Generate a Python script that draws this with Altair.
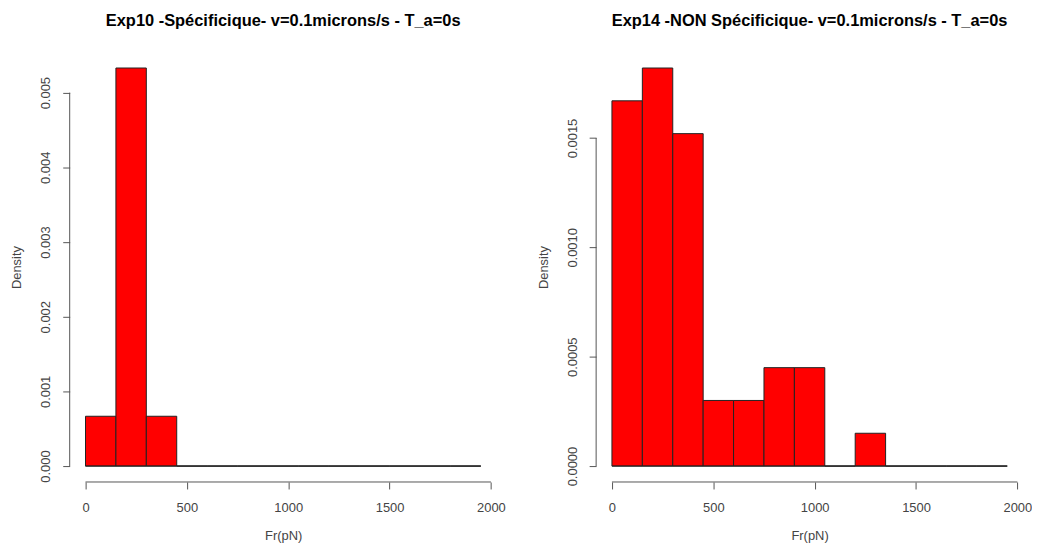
import altair as alt
import pandas as pd

# Histogram bins (width 150)
bin_start = [0, 150, 300, 450, 600, 750, 900, 1050, 1200, 1350, 1500, 1650, 1800]
bin_end = [150, 300, 450, 600, 750, 900, 1050, 1200, 1350, 1500, 1650, 1800, 1950]

# Densities
dens_left = [0.000667, 0.00533, 0.000667, 0, 0, 0, 0, 0, 0, 0, 0, 0, 0]
dens_right = [0.00167, 0.00182, 0.00152, 0.0003, 0.0003, 0.00045, 0.00045, 0, 0.00015, 0, 0, 0, 0]

x_ticks = [0, 500, 1000, 1500, 2000]
y_ticks_left = [0.000, 0.001, 0.002, 0.003, 0.004, 0.005]
y_ticks_right = [0.0000, 0.0005, 0.0010, 0.0015]

title_left = "Exp10 -Spécificique- v=0.1microns/s - T_a=0s"
title_right = "Exp14 -NON Spécificique- v=0.1microns/s - T_a=0s"
x_title = "Fr(pN)"
y_title = "Density"

FONT = "Liberation Sans"
AX = "#555555"
TXT = "#444444"
W, H = 429, 432


def panel(dens, yticks, yfmt, title):
    df = pd.DataFrame({"start": bin_start, "end": bin_end, "density": dens})
    ymax = max(dens)
    ydom = [-0.04 * ymax, ymax * 1.04]
    xdom = [-0.04 * 1950, 1950 * 1.04]
    xs = alt.Scale(domain=xdom, nice=False, zero=False)
    ys = alt.Scale(domain=ydom, nice=False, zero=False)

    bars = alt.Chart(df).mark_rect(color="#ff0000", stroke="#222222", strokeWidth=1).encode(
        x=alt.X("start:Q", scale=xs, title=x_title,
                axis=alt.Axis(values=x_ticks, format="d", domain=False, grid=False, tickSize=7,
                              tickColor=AX, labelPadding=13, titlePadding=15,
                              labelFont=FONT, labelFontSize=13, labelColor=TXT,
                              titleFont=FONT, titleFontSize=13, titleColor=TXT,
                              titleFontWeight="normal")),
        x2="end:Q",
        y=alt.Y("density:Q", scale=ys, title=y_title,
                axis=alt.Axis(values=yticks, format=yfmt, domain=False, grid=False,
                              tickSize=7, tickColor=AX, labelAngle=270,
                              labelAlign="center", labelBaseline="bottom",
                              labelPadding=10, titlePadding=16,
                              labelFont=FONT, labelFontSize=13, labelColor=TXT,
                              titleFont=FONT, titleFontSize=13, titleColor=TXT,
                              titleFontWeight="normal")),
        y2=alt.datum(0),
    )

    base = pd.DataFrame({"a": [bin_start[0]], "b": [bin_end[-1]], "v": [0.0]})
    baseline = alt.Chart(base).mark_rule(color="#222222", strokeWidth=1).encode(
        x=alt.X("a:Q", scale=xs), x2="b:Q", y=alt.Y("v:Q", scale=ys))

    xax = pd.DataFrame({"a": [x_ticks[0]], "b": [x_ticks[-1]]})
    xline = alt.Chart(xax).mark_rule(color=AX, strokeWidth=1).encode(
        x=alt.X("a:Q", scale=xs), x2="b:Q", y=alt.value(H))

    yax = pd.DataFrame({"a": [yticks[0]], "b": [yticks[-1]]})
    yline = alt.Chart(yax).mark_rule(color=AX, strokeWidth=1).encode(
        y=alt.Y("a:Q", scale=ys), y2="b:Q", x=alt.value(0))

    return alt.layer(bars, baseline, xline, yline).properties(
        width=W, height=H,
        title=alt.Title(title, font=FONT, fontSize=16.5, fontWeight="bold",
                        color="#000000", anchor="middle", offset=23),
    )


left = panel(dens_left, y_ticks_left, ".3f", title_left)
right = panel(dens_right, y_ticks_right, ".4f", title_right)

chart = alt.hconcat(left, right, spacing=100, bounds="flush").configure(
    background="#ffffff", padding={"left": 3, "right": 0, "top": 3, "bottom": 0}
).configure_view(stroke=None)

chart.save("out.html", embed_options={"renderer": "svg", "actions": False})
